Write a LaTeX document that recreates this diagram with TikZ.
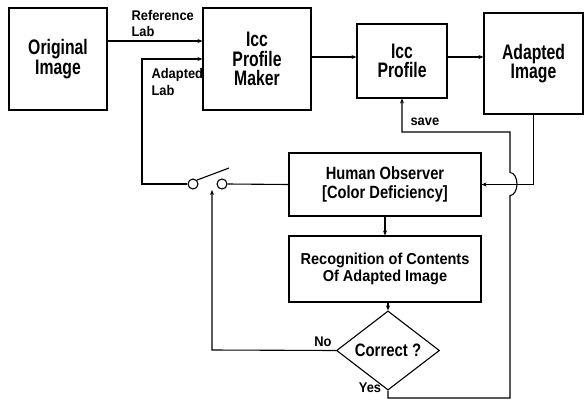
\documentclass[tikz,border=0pt]{standalone}
\usepackage{fontspec}
\setmainfont{Liberation Sans}
\newfontfamily\fontA[FakeStretch=0.75]{Liberation Sans}
\newfontfamily\fontB[FakeStretch=0.83]{Liberation Sans}
\newfontfamily\fontC[FakeStretch=0.92]{Liberation Sans}
\usetikzlibrary{shapes.geometric,arrows.meta}
\begin{document}
\begin{tikzpicture}[x=1pt,y=-1pt,
  line width=1.1pt,
  box/.style={draw, rectangle, inner sep=0pt, align=center, font=\fontA\bfseries\fontsize{21}{19.5}\selectfont},
  dec/.style={draw, diamond, inner sep=0pt, font=\fontB\bfseries\fontsize{18}{18}\selectfont},
  lbl/.style={inner sep=0pt, align=left, font=\fontC\bfseries\fontsize{14}{16.5}\selectfont},
  arr/.style={-{Stealth[length=5pt,width=4pt]}},
  sw/.style={draw, circle, inner sep=0pt, minimum size=10pt}]
\useasboundingbox[fill=white] (0,0) rectangle (586,402);
% boxes
\node[box, minimum width=98, minimum height=102] (orig) at (58,59) {Original\\Image};
\node[box, minimum width=108, minimum height=102] (maker) at (257,59) {Icc\\Profile\\Maker};
\node[box, minimum width=90, minimum height=74] (icc) at (402,61) {Icc\\Profile};
\node[box, minimum width=99, minimum height=101] (adapt) at (533.5,63.5) {Adapted\\Image};
\node[box, minimum width=192, minimum height=63, font=\fontB\bfseries\fontsize{17.7}{19}\selectfont] (obs) at (385,184.5) {Human Observer\\{[}Color Deficiency{]}};
\node[box, minimum width=192, minimum height=66, font=\fontC\bfseries\fontsize{15.8}{16.5}\selectfont] (rec) at (385,269) {Recognition of Contents\\Of Adapted Image};
\node[dec, minimum width=103, minimum height=63] (corr) at (388,350.5) {Correct ?};
% switch
\node[sw] (sw1) at (193,184) {};
\node[sw] (sw2) at (222,184) {};
\coordinate (lev) at (229,168);
\draw (sw1.north east) -- (lev);
% labels
\node[lbl, anchor=north west] (lref) at (131,9.5) {Reference\\Lab};
\node[lbl, anchor=north west] (ladp) at (151,68) {Adapted\\Lab};
\node[lbl, anchor=west] (lsave) at (410,122) {save};
\node[lbl] (lno) at (323,342) {No};
\node[lbl] (lyes) at (370,388) {Yes};
% helper coordinates
\coordinate (yref) at (0,41);
\coordinate (ymid) at (0,57);
\coordinate (ca) at (142,184);
\coordinate (cb) at (142,59);
\coordinate (cno) at (212,350);
\coordinate (cnoup) at (212,190);
\coordinate (cy1) at (388,398);
\coordinate (cy2) at (510,398);
\coordinate (cy3) at (510,195.5);
\coordinate (cy4) at (510,132);
% connectors
\draw[arr] (orig.east |- yref) -- (maker.west |- yref);
\draw[arr] (maker.east |- ymid) -- (icc.west |- ymid);
\draw[arr] (icc.east |- ymid) -- (adapt.west |- ymid);
\draw[arr] (adapt.south) |- (obs.east);
\draw[arr] (obs.south) -- (rec.north);
\draw[arr] (rec.south -| corr.north) -- (corr.north);
\draw (obs.west) -- (sw2.east);
\draw[arr] (sw1.west) -- (ca) -- (cb) -- (maker.west |- cb);
\draw[arr] (corr.west) -- (cno) -- (cnoup);
\draw[arr] (corr.south) -- (cy1) -- (cy2) -- (cy3)
   arc[start angle=90, end angle=-90, x radius=7, y radius=11.5]
   -- (cy4) -| (icc.south);
\end{tikzpicture}
\end{document}
